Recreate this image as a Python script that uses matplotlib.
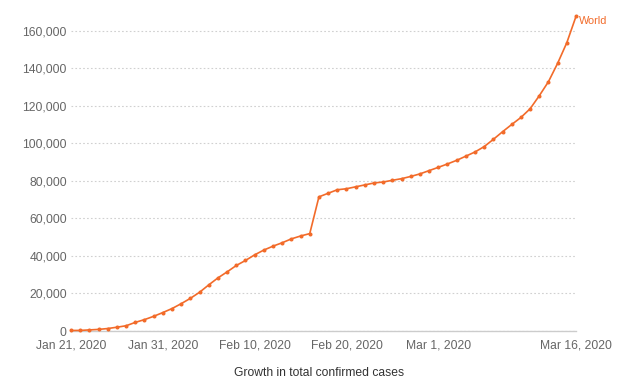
import matplotlib
matplotlib.use("Agg")
import matplotlib.pyplot as plt
import matplotlib.dates as mdates
from matplotlib.ticker import FuncFormatter
import pandas as pd

dates = pd.date_range("2020-01-21", "2020-03-16", freq="D")
cases = [282, 314, 581, 846, 1320, 2014, 2798, 4593, 6065, 7818,
         9826, 11953, 14557, 17391, 20630, 24554, 28276, 31481, 34886, 37558,
         40554, 43103, 45171, 46997, 49053, 50580, 51857, 71429, 73332, 75204,
         75748, 76769, 77794, 78811, 79331, 80239, 81109, 82294, 83652, 85403,
         87137, 88948, 90869, 93091, 95324, 98192, 102050, 106099, 109965, 113702,
         118319, 125260, 132758, 142534, 153517, 167511]
series_name = "World"
tick_dates = ["2020-01-21", "2020-01-31", "2020-02-10", "2020-02-20", "2020-03-01", "2020-03-16"]
tick_labels = ["Jan 21, 2020", "Jan 31, 2020", "Feb 10, 2020", "Feb 20, 2020", "Mar 1, 2020", "Mar 16, 2020"]
y_ticks = [0, 20000, 40000, 60000, 80000, 100000, 120000, 140000, 160000]
caption = "Growth in total confirmed cases"

plt.rcParams['font.family'] = ['Liberation Sans', 'DejaVu Sans']
color = '#F26B2A'

fig = plt.figure(figsize=(6.4, 3.87), dpi=100)
ax = fig.add_axes([0.111, 0.1447, 0.789, 0.825])

ax.plot(dates, cases, color=color, lw=1.2, marker='o', ms=1.9, zorder=3, clip_on=False)
ax.text(dates[-1] + pd.Timedelta(hours=8), cases[-1] - 2500, series_name, color=color,
        fontsize=7.8, va='center', ha='left')

ax.set_xlim(dates[0], dates[-1])
ax.set_ylim(0, 170000)
ax.set_yticks(y_ticks)
ax.yaxis.set_major_formatter(FuncFormatter(lambda v, p: f"{int(v):,}"))
ax.set_xticks(pd.to_datetime(tick_dates))
ax.set_xticklabels(tick_labels)

for s in ['top', 'right', 'left']:
    ax.spines[s].set_visible(False)
ax.spines['bottom'].set_color('#cccccc')
ax.spines['bottom'].set_linewidth(1)
ax.tick_params(axis='both', length=0, labelsize=8.7, colors='#666666')
ax.tick_params(axis='x', pad=6)
ax.tick_params(axis='y', pad=3)
ax.grid(axis='y', color='#d0d0d0', linestyle=(0, (1.5, 2)), lw=0.8)
ax.set_axisbelow(True)

fig.text(0.499, 0.036, caption, ha='center', va='center', fontsize=8.7, color='#333333')

fig.savefig("out.png", dpi=100)
